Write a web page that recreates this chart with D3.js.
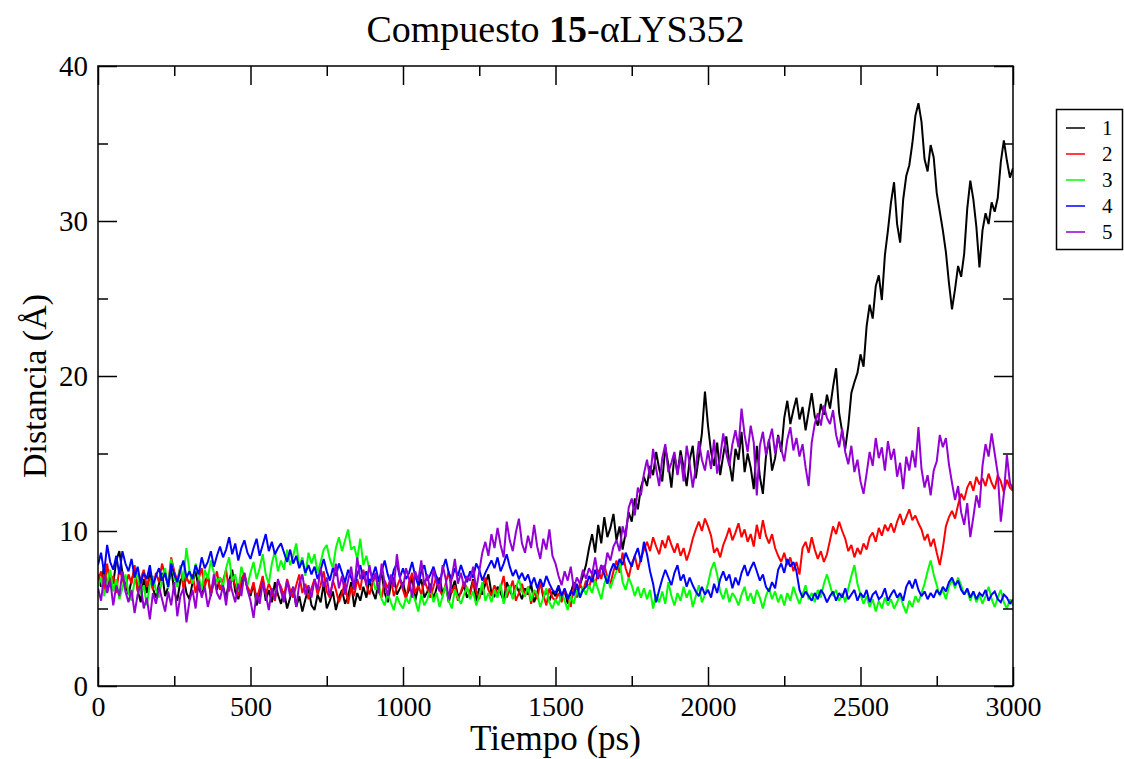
<!DOCTYPE html>
<html>
<head>
<meta charset="utf-8">
<script src="https://cdn.jsdelivr.net/npm/d3@7"></script>
<style>
  html, body { margin: 0; padding: 0; background: #fff; }
  svg { display: block; }
  text { font-family: "Liberation Serif", "Times New Roman", serif; fill: #000; }
</style>
</head>
<body>
<svg id="chart" width="1124" height="759"></svg>
<script>
// Distance (Å) sampled every 10 ps, 0 .. 3000 ps
const timeStep = 10;

const series1 = [
  7.2, 6.4, 7.8, 6.1, 7.0, 6.6, 8.1, 8.7, 7.3, 6.5,
  5.9, 6.8, 7.5, 6.2, 5.4, 6.9, 6.0, 7.4, 6.3, 5.7,
  6.6, 7.3, 5.8, 6.4, 7.6, 6.1, 5.5, 6.8, 7.1, 6.0,
  5.6, 6.7, 7.4, 6.3, 5.9, 6.6, 7.2, 5.8, 6.9, 6.2,
  7.0, 6.4, 5.7, 6.8, 7.5, 6.1, 5.6, 6.5, 7.1, 6.3,
  5.8, 6.6, 5.2, 6.0, 6.9, 5.5, 6.2, 5.4, 6.7, 5.9,
  5.3, 6.1, 5.0, 5.7, 6.4, 5.1, 5.8, 4.8, 5.6, 6.3,
  5.2, 4.9, 5.9, 5.4, 6.6, 5.0, 5.5, 6.1, 4.9, 5.7,
  6.2, 5.3, 5.8, 6.7, 5.1, 6.0, 5.5, 6.4, 5.7, 6.9,
  6.1, 5.6, 6.8, 7.2, 6.0, 5.4, 6.5, 7.0, 5.9, 6.3,
  6.7, 5.8, 6.2, 7.1, 5.5, 6.4, 6.9, 5.7, 6.1, 6.6,
  5.6, 6.3, 7.0, 5.9, 6.5, 5.4, 6.2, 6.8, 5.8, 6.0,
  6.5, 5.7, 6.1, 6.9, 5.5, 6.3, 5.9, 6.6, 7.2, 6.0,
  5.8, 6.4, 6.0, 5.5, 6.7, 6.2, 5.7, 6.5, 6.1, 5.6,
  6.3, 5.9, 6.6, 5.4, 6.0, 6.8, 5.7, 6.2, 5.5, 6.1,
  5.8, 6.4, 5.6, 6.2, 5.3, 6.0, 6.7, 5.9, 6.5, 7.1,
  7.8, 8.9, 9.8, 8.6, 10.4, 9.2, 10.9, 9.6, 10.2, 11.1,
  9.4, 10.3, 8.8, 9.9, 11.2, 10.6, 12.1, 11.4, 12.8, 13.5,
  12.9, 14.2, 13.6, 15.1, 14.0, 13.2, 15.4, 14.3, 12.8, 14.9,
  13.7, 15.2, 14.1, 12.9, 14.6, 15.5, 13.4, 14.8, 16.3, 19.0,
  16.8, 15.1, 14.2, 15.7, 13.6, 14.9, 16.1, 14.4, 13.2, 15.3,
  14.6, 16.4, 13.8, 15.0, 14.1, 12.7, 15.5, 13.5, 12.4, 14.8,
  15.9, 13.9, 14.7, 16.2, 15.1, 17.3, 18.4, 16.9, 17.8, 18.6,
  17.2, 18.0, 16.5, 17.7, 18.9, 17.4, 16.8, 18.2, 17.5, 18.8,
  17.9, 19.3, 20.5, 17.6, 16.4, 15.3, 16.8, 18.9, 19.6, 20.2,
  21.4, 20.6, 23.2, 24.6, 23.7, 25.8, 26.5, 24.9, 27.8, 29.4,
  31.2, 32.5, 29.8, 28.6, 31.4, 32.9, 33.6, 35.0, 36.8, 37.6,
  36.4, 34.0, 33.2, 34.9, 34.1, 31.8, 30.6, 29.4, 28.0, 26.0,
  24.3, 25.6, 27.1, 26.4, 27.9, 30.8, 32.6, 31.4, 29.6, 27.0,
  29.4, 30.5, 29.8, 31.2, 30.6, 31.5, 33.8, 35.2, 33.9, 32.8,
  33.4
];

const series2 = [
  6.8, 7.4, 6.2, 7.9, 6.5, 7.1, 6.0, 7.6, 6.9, 6.3,
  7.2, 6.6, 7.8, 6.1, 6.9, 7.5, 6.4, 7.0, 6.2, 7.3,
  6.7, 7.9, 7.1, 6.5, 8.3, 7.4, 6.8, 7.7, 6.3, 7.0,
  6.6, 7.2, 6.0, 6.9, 7.6, 6.4, 7.1, 5.9, 6.7, 7.4,
  6.2, 6.8, 7.5, 6.1, 7.0, 6.5, 5.8, 6.9, 7.3, 6.4,
  6.0, 6.7, 5.6, 6.3, 7.1, 5.9, 6.6, 6.1, 5.5, 6.8,
  6.4, 5.8, 6.9, 6.2, 5.7, 6.5, 7.2, 6.0, 6.6, 5.6,
  6.3, 6.9, 5.9, 6.5, 7.4, 6.1, 5.7, 6.8, 6.2, 5.4,
  6.0, 6.7, 5.3, 6.4, 5.8, 6.9, 6.2, 7.5, 6.5, 5.9,
  6.6, 7.2, 6.1, 5.7, 6.8, 6.3, 7.0, 5.8, 6.4, 6.9,
  6.2, 5.6, 6.7, 7.3, 6.0, 6.5, 5.9, 6.8, 6.3, 5.7,
  6.4, 7.1, 6.2, 5.8, 6.6, 7.4, 6.0, 6.5, 5.5, 6.1,
  6.7, 6.3, 5.9, 6.8, 6.1, 5.6, 6.4, 7.0, 6.2, 5.8,
  6.5, 5.9, 6.3, 7.1, 5.7, 6.2, 6.8, 5.5, 6.0, 6.6,
  5.8, 6.4, 5.3, 6.1, 5.6, 6.7, 5.9, 5.2, 6.3, 5.7,
  5.5, 6.0, 5.4, 6.2, 5.8, 5.1, 6.4, 5.7, 6.6, 6.1,
  6.8, 6.3, 7.2, 6.5, 7.5, 6.9, 7.8, 7.0, 6.6, 7.4,
  8.1, 7.3, 8.6, 7.6, 7.0, 7.9, 8.4, 7.5, 8.2, 8.8,
  9.3, 8.7, 9.6, 9.0, 8.5, 9.4, 8.9, 9.7, 9.1, 8.6,
  9.2, 8.4, 8.9, 8.1, 8.7, 9.5, 10.1, 10.6, 10.0, 10.8,
  10.3, 9.7, 8.6, 8.9, 8.3, 9.1, 9.6, 10.2, 9.4, 9.9,
  10.5, 9.6, 10.1, 9.3, 9.8, 9.0, 10.4, 9.5, 10.7, 9.7,
  9.2, 9.8, 8.9, 8.4, 8.0, 8.6, 7.8, 8.3, 7.4, 8.0,
  7.2, 8.9, 9.3, 8.6, 9.6, 8.8, 8.2, 8.7, 8.0, 8.5,
  9.4, 10.3, 9.8, 10.6, 10.0, 9.5, 8.7, 9.1, 8.3, 8.9,
  8.5, 9.2, 8.8, 9.6, 9.9, 9.3, 10.2, 9.7, 10.4, 10.0,
  10.5, 9.9, 10.6, 11.1, 10.4, 10.9, 11.4, 10.7, 11.0, 10.5,
  10.1, 9.4, 9.8, 9.0, 9.5, 8.6, 7.8, 8.9, 10.3, 10.9,
  11.3, 10.8, 11.7, 12.4, 12.0, 12.8, 13.2, 12.6, 13.5, 13.0,
  13.4, 12.9, 13.7, 13.1, 12.7, 13.6, 13.2, 12.5, 13.3, 12.8,
  12.6
];

const series3 = [
  6.4, 7.0, 5.8, 6.7, 7.5, 6.1, 6.9, 5.6, 6.3, 7.2,
  6.0, 5.5, 6.8, 7.3, 5.9, 6.5, 5.2, 6.6, 7.1, 6.2,
  5.7, 6.9, 7.6, 6.3, 8.2, 7.0, 6.4, 7.8, 6.8, 8.9,
  7.4, 6.6, 7.9, 7.1, 6.2, 7.5, 6.9, 8.1, 7.3, 6.7,
  7.0, 6.4, 7.6, 8.3, 6.8, 7.2, 6.1, 7.7, 7.0, 6.5,
  7.3, 8.0, 6.9, 7.6, 8.5, 7.2, 6.6, 7.9, 8.7, 7.4,
  8.1, 7.5, 8.8, 7.8, 8.4, 9.2, 7.7, 8.3, 7.1, 8.6,
  7.9, 8.5, 7.3, 8.0, 8.8, 9.1, 8.2, 7.6, 8.9, 9.6,
  8.7, 9.4, 10.1, 8.8, 9.0, 8.2, 9.5, 7.8, 8.4, 7.5,
  7.0, 6.2, 6.7, 5.6, 5.2, 6.0, 5.4, 4.9, 5.8, 5.3,
  5.0, 5.7, 5.3, 6.1, 5.5, 4.8, 5.9, 5.2, 5.6, 6.3,
  5.4, 6.0, 5.1, 5.8, 6.5, 5.5, 5.0, 6.2, 5.7, 5.3,
  5.9, 6.4, 5.6, 6.1, 5.2, 5.8, 6.7, 5.5, 6.0, 5.4,
  6.2, 5.7, 6.6, 5.3, 6.0, 6.5, 5.6, 6.3, 6.9, 6.1,
  5.8, 6.4, 5.5, 6.2, 5.9, 5.1, 5.7, 6.3, 5.4, 5.0,
  5.6, 5.2, 6.1, 5.5, 4.9, 5.8, 5.3, 6.2, 5.7, 6.4,
  5.9, 6.5, 6.0, 6.8, 6.2, 5.6, 6.6, 7.1, 6.3, 6.9,
  7.4, 8.1, 6.7, 6.2, 7.0, 6.5, 5.8, 6.4, 5.7, 6.3,
  5.6, 6.2, 5.0, 5.9, 5.4, 6.1, 5.3, 6.7, 5.8, 5.2,
  6.0, 5.5, 6.4, 5.7, 6.2, 5.1, 5.8, 6.5, 5.4, 5.9,
  6.6, 7.5, 8.0, 7.2, 6.1, 5.6, 6.3, 5.4, 6.0, 5.7,
  5.2, 5.9, 6.4, 5.5, 6.0, 5.3, 6.2, 5.7, 5.0, 5.8,
  6.3, 5.6, 6.1, 5.4, 5.9, 5.2, 6.0, 5.5, 6.4, 5.8,
  5.3, 5.9, 6.5, 5.6, 6.0, 5.4, 6.2, 5.7, 6.6, 7.2,
  6.5, 5.8, 6.2, 5.5, 6.0, 5.4, 6.3, 7.1, 7.8, 6.6,
  5.9, 5.3, 5.8, 5.1, 5.6, 4.8, 5.5, 5.0, 5.7, 5.2,
  5.6, 5.0, 5.4, 5.9, 5.2, 4.7, 5.5, 5.1, 5.8, 5.4,
  6.0, 6.6, 7.4, 8.1, 7.2, 6.5, 5.8, 6.2, 5.6, 6.4,
  6.9, 6.3, 7.0, 6.5, 5.9, 6.2, 5.5, 6.1, 5.4, 5.9,
  5.3, 5.8, 6.4, 5.6, 5.1, 5.7, 6.2, 5.4, 5.0, 5.6,
  5.2
];

const series4 = [
  7.8, 8.6, 7.3, 9.1, 8.0, 7.5, 8.4, 7.2, 8.7, 7.9,
  7.4, 8.2, 7.0, 7.7, 6.6, 7.3, 6.9, 7.8, 6.5, 7.1,
  7.6, 6.8, 7.3, 6.4, 7.9, 7.2, 6.7, 7.5, 8.1, 7.0,
  7.4, 6.9, 7.8, 7.2, 8.3, 7.6, 8.0, 8.7, 7.7, 8.4,
  9.0, 8.3, 8.8, 9.6, 8.5, 9.2, 8.1, 8.9, 9.4, 8.6,
  8.2, 8.9, 9.5, 8.4, 9.1, 9.8, 8.7, 9.3, 8.5, 8.9,
  9.2, 8.6, 8.0, 8.8, 7.9, 8.4, 7.6, 8.1, 7.3, 7.8,
  7.2, 7.7, 6.9, 7.5, 8.2, 7.4, 6.8, 7.6, 7.1, 7.9,
  7.3, 6.7, 7.5, 7.0, 6.4, 7.2, 7.8, 6.9, 7.4, 6.6,
  7.1, 7.7, 6.8, 7.4, 8.1, 7.2, 6.6, 7.5, 7.9, 7.0,
  7.6, 6.9, 7.3, 8.0, 7.1, 6.5, 7.4, 7.8, 6.8, 7.2,
  7.7, 7.0, 6.6, 7.5, 8.2, 7.3, 6.9, 7.6, 7.1, 7.8,
  7.2, 6.7, 7.4, 7.0, 7.9, 7.5, 6.8, 7.3, 7.7, 8.1,
  7.6, 8.3, 7.4, 7.9, 8.5, 7.7, 7.1, 7.5, 6.9, 7.3,
  6.8, 7.2, 6.5, 7.0, 6.3, 6.9, 6.4, 7.1, 6.6, 6.2,
  6.0, 6.5, 5.8, 6.3, 5.6, 6.1, 5.9, 6.6, 5.7, 6.2,
  6.4, 7.1, 6.7, 7.5, 6.9, 7.8, 7.2, 6.6, 7.4, 7.9,
  7.5, 8.2, 7.8, 8.6, 8.1, 7.7, 8.4, 8.9, 8.0, 9.3,
  8.5, 7.4, 6.6, 5.4, 6.2, 6.9, 7.5, 7.0, 6.5, 7.3,
  7.8, 6.8, 7.2, 6.4, 7.0, 6.5, 6.1, 5.8, 6.4, 5.9,
  6.2, 5.7, 6.6, 6.0, 6.9, 7.4, 6.8, 7.2, 6.3, 7.0,
  6.5, 7.3, 7.8, 7.1, 7.6, 8.0, 7.4, 6.8, 7.2, 6.4,
  6.1, 6.7, 6.3, 7.5, 7.9, 7.3, 8.2, 7.7, 8.0, 7.4,
  6.2, 5.7, 6.1, 5.8, 5.5, 6.0, 5.6, 6.2, 5.9, 5.4,
  5.8, 6.1, 5.5, 6.0, 5.7, 6.3, 5.6, 5.9, 6.2, 5.5,
  6.0, 5.7, 6.2, 5.4, 5.9, 6.1, 5.6, 5.8, 6.3, 5.5,
  5.9, 6.2, 5.7, 6.0, 5.5, 6.4, 6.8, 6.3, 6.9, 6.2,
  5.8, 6.1, 5.6, 6.0, 5.7, 6.2, 5.9, 6.4, 6.1, 6.7,
  7.0, 6.5, 6.8, 6.2, 5.9, 6.3, 5.7, 6.1, 5.6, 6.0,
  5.8, 6.2, 5.5, 5.9, 6.1, 5.6, 5.4, 5.9, 5.7, 5.3,
  5.6
];

const series5 = [
  6.3, 5.5, 7.1, 6.0, 6.8, 5.2, 6.5, 5.8, 7.4, 6.1,
  5.4, 6.2, 4.7, 5.9, 6.6, 5.0, 5.7, 4.3, 6.0, 5.3,
  6.4, 5.6, 4.8, 6.1, 5.2, 6.7, 4.5, 5.8, 6.3, 4.1,
  5.5, 6.2, 5.0, 6.8, 5.7, 6.4, 5.1, 5.9, 7.2, 6.0,
  5.6, 6.5, 5.2, 6.9, 6.1, 5.4, 6.6, 5.8, 7.3, 6.2,
  5.5, 4.4, 6.0, 5.3, 6.7, 5.9, 4.9, 6.3, 5.6, 6.9,
  6.1, 5.4, 6.8, 5.8, 6.4, 5.1, 6.6, 7.2, 5.9, 6.5,
  5.7, 6.9, 6.2, 7.6, 6.4, 7.0, 5.8, 6.7, 7.9, 6.3,
  7.1, 5.9, 6.8, 7.7, 6.2, 8.3, 6.9, 7.4, 6.5, 7.8,
  6.7, 7.3, 6.0, 7.9, 6.6, 5.8, 7.2, 6.4, 8.5, 7.0,
  6.3, 7.6, 6.9, 5.7, 7.4, 6.8, 8.1, 6.5, 7.2, 6.0,
  7.5, 6.7, 6.1, 7.8, 6.9, 5.6, 7.0, 8.2, 6.6, 7.3,
  6.4, 7.1, 6.8, 7.7, 6.2, 7.4, 8.6, 9.3, 8.4, 9.8,
  8.9, 10.2, 9.1, 8.3, 10.6, 9.4, 8.7, 9.9, 10.8, 9.2,
  8.6, 9.7, 8.9, 10.4, 9.0, 8.2, 9.5, 8.8, 10.1, 8.4,
  7.9, 7.1, 6.5, 7.4, 6.8, 7.7, 6.3, 7.0, 6.6, 7.5,
  6.9, 7.6, 7.2, 8.3, 7.0, 7.8, 7.4, 8.6, 8.1, 9.0,
  9.4, 8.7, 10.3, 9.6, 11.5, 12.1, 11.0, 12.8, 12.3, 13.7,
  14.6, 13.4, 15.3, 14.0, 12.9, 14.7, 15.6, 13.8, 14.4, 15.1,
  13.6, 14.9, 13.2, 15.5, 14.3, 12.8, 14.1, 15.8, 14.6, 13.9,
  15.2, 14.0, 15.9, 13.7, 14.8, 16.3, 15.0, 14.2, 15.6, 16.5,
  15.4, 17.9, 16.2, 15.1, 16.8, 15.7, 12.3, 15.5, 16.4, 14.9,
  15.8, 16.6, 15.0, 16.1, 15.3, 14.5, 15.9, 16.7, 15.2, 16.0,
  14.8, 15.6, 14.1, 12.9, 15.7, 16.9, 17.6, 16.8, 18.1, 17.3,
  16.9, 17.8, 16.2, 15.4, 16.6, 15.1, 14.3, 15.5, 13.8, 14.6,
  13.2, 12.4, 13.7, 15.1, 14.2, 16.0, 14.7, 15.4, 13.9, 15.8,
  14.6, 15.3, 13.5, 14.4, 12.7, 14.8, 13.9, 15.2, 14.1, 16.7,
  14.0, 12.8, 13.6, 12.3, 13.9, 14.5, 16.2, 15.4, 16.0, 14.3,
  13.1, 12.0, 12.9, 11.2, 10.4, 11.8, 9.6, 10.9, 12.3, 11.5,
  14.2, 15.6, 14.8, 16.3, 15.0, 13.7, 10.6, 12.4, 14.9, 13.1,
  12.7
];

const seriesNames = ["1", "2", "3", "4", "5"];
const seriesColors = ["#000000", "#ff0000", "#00ff00", "#0000ff", "#9400d3"];
const seriesValues = [series1, series2, series3, series4, series5];

const xTicks = [0, 500, 1000, 1500, 2000, 2500, 3000];
const yTicks = [0, 10, 20, 30, 40];

const svg = d3.select("#chart");
const plot = { left: 98, right: 1013, top: 66, bottom: 686 };

const x = d3.scaleLinear().domain([0, 3000]).range([plot.left, plot.right]);
const y = d3.scaleLinear().domain([0, 40]).range([plot.bottom, plot.top]);

svg.append("rect").attr("width", 1124).attr("height", 759).attr("fill", "#fff");

svg.append("clipPath").attr("id", "plotclip")
  .append("rect")
  .attr("x", plot.left).attr("y", plot.top)
  .attr("width", plot.right - plot.left).attr("height", plot.bottom - plot.top);

// data lines
const line = d3.line()
  .x((d, i) => x(i * timeStep))
  .y(d => y(d));

const lines = svg.append("g").attr("clip-path", "url(#plotclip)");
seriesValues.forEach((vals, k) => {
  lines.append("path")
    .datum(vals)
    .attr("d", line)
    .attr("fill", "none")
    .attr("stroke", seriesColors[k])
    .attr("stroke-width", 2)
    .attr("stroke-linejoin", "miter")
    .attr("stroke-miterlimit", 2);
});

// frame with inward ticks on all four sides
const majorLen = 19, minorLen = 10;
const axisStyle = g => {
  g.select(".domain").remove();
  g.selectAll(".tick line").attr("stroke", "#000").attr("stroke-width", 1.5);
};

function tickAxes(axisFn, scale, major, minor, transform, showLabels) {
  svg.append("g").attr("transform", transform)
    .call(axisFn(scale).tickValues(minor).tickSize(-minorLen).tickFormat(""))
    .call(axisStyle);
  const gMajor = svg.append("g").attr("transform", transform)
    .call(axisFn(scale).tickValues(major).tickSize(-majorLen).tickPadding(majorLen + 9)
      .tickFormat(showLabels ? d3.format("d") : ""))
    .call(axisStyle);
  return gMajor;
}

const xMinor = d3.range(250, 3000, 500);
const yMinor = d3.range(5, 40, 10);

const xb = tickAxes(d3.axisBottom, x, xTicks, xMinor, `translate(0,${plot.bottom})`, true);
xb.selectAll(".tick text")
  .attr("font-size", 28).attr("font-family", "Liberation Serif")
  .attr("y", 30).attr("dy", 0);
tickAxes(d3.axisTop, x, xTicks, xMinor, `translate(0,${plot.top})`, false);
const yl = tickAxes(d3.axisLeft, y, yTicks, yMinor, `translate(${plot.left},0)`, true);
yl.selectAll(".tick text")
  .attr("font-size", 29).attr("font-family", "Liberation Serif")
  .attr("x", -10).attr("dy", "0.34em");
tickAxes(d3.axisRight, y, yTicks, yMinor, `translate(${plot.right},0)`, false);

svg.append("rect")
  .attr("x", plot.left).attr("y", plot.top)
  .attr("width", plot.right - plot.left).attr("height", plot.bottom - plot.top)
  .attr("fill", "none").attr("stroke", "#000").attr("stroke-width", 1.5);

// title
const title = svg.append("text")
  .attr("x", (plot.left + plot.right) / 2).attr("y", 42)
  .attr("text-anchor", "middle").attr("font-size", 38);
title.append("tspan").text("Compuesto ");
title.append("tspan").attr("font-weight", "bold").text("15");
title.append("tspan").text("-\u03B1LYS352");

// axis titles
svg.append("text")
  .attr("x", (plot.left + plot.right) / 2).attr("y", 750)
  .attr("text-anchor", "middle").attr("font-size", 35)
  .text("Tiempo (ps)");

svg.append("text")
  .attr("transform", `translate(46,${(plot.top + plot.bottom) / 2 + 10}) rotate(-90)`)
  .attr("text-anchor", "middle").attr("font-size", 34)
  .text("Distancia (\u00C5)");

// legend
const legend = svg.append("g");
legend.append("rect")
  .attr("x", 1056.5).attr("y", 109.5).attr("width", 66).attr("height", 140)
  .attr("fill", "#fff").attr("stroke", "#000").attr("stroke-width", 1.5);
seriesNames.forEach((name, k) => {
  const yy = 128 + k * 26;
  legend.append("line")
    .attr("x1", 1066).attr("x2", 1085).attr("y1", yy).attr("y2", yy)
    .attr("stroke", seriesColors[k]).attr("stroke-width", 1.5);
  legend.append("text")
    .attr("x", 1102).attr("y", yy + 7).attr("font-size", 21)
    .text(name);
});
</script>
</body>
</html>
